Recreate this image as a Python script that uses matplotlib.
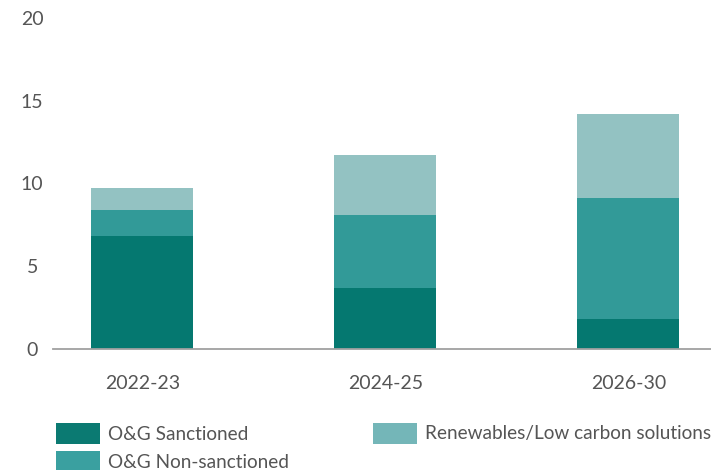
import matplotlib

matplotlib.use("Agg")
import matplotlib.pyplot as plt
from matplotlib.patches import Rectangle
import numpy as np

# Capex split by period (USD bn)
periods = ["2022-23", "2024-25", "2026-30"]
og_sanctioned = [6.8, 3.7, 1.8]
og_non_sanctioned = [1.6, 4.4, 7.3]
renewables_low_carbon = [1.3, 3.6, 5.1]

series_names = ["O&G Sanctioned", "O&G Non-sanctioned", "Renewables/Low carbon solutions"]
series_colors = ["#057870", "#329a98", "#93c2c2"]
legend_colors = ["#0b7a72", "#3aa0a0", "#74b6b8"]

TEXT = "#555555"
plt.rcParams["font.family"] = ["Lato", "DejaVu Sans"]

W, H = 711, 470
fig = plt.figure(figsize=(W / 100, H / 100), dpi=100)
ax = fig.add_axes([53 / W, (H - 349) / H, (W - 53) / W, (349 - 18) / H])

x = np.arange(len(periods))
bottom = np.zeros(len(periods))
for vals, color in zip([og_sanctioned, og_non_sanctioned, renewables_low_carbon], series_colors):
    ax.bar(x, vals, width=0.42, bottom=bottom, color=color, linewidth=0)
    bottom += np.array(vals)

ax.set_xlim(-0.368, 2.34)
ax.set_ylim(0, 20)
ax.set_yticks([0, 5, 10, 15, 20])
ax.set_xticks(x, periods)
ax.tick_params(axis="both", length=0, labelsize=14, labelcolor=TEXT)
ax.tick_params(axis="y", pad=15)
ax.tick_params(axis="x", pad=19)
for lab in ax.get_yticklabels():
    lab.set_horizontalalignment("center")

for side in ["top", "right", "left"]:
    ax.spines[side].set_visible(False)
ax.spines["bottom"].set_color("#a0a0a0")
ax.spines["bottom"].set_linewidth(1.3)

# legend drawn as swatches + labels in pixel positions
swatches = [(56, 423), (56, 451), (373, 423)]
for (px, py), name, color in zip(swatches, series_names, legend_colors):
    fig.patches.append(Rectangle((px / W, (H - py - 21) / H), 44 / W, 21 / H,
                                 transform=fig.transFigure, color=color, lw=0))
    fig.text((px + 52) / W, (H - py - 11) / H, name, fontsize=13.7, color=TEXT,
             va="center", ha="left")

fig.savefig("out.png", dpi=100)
